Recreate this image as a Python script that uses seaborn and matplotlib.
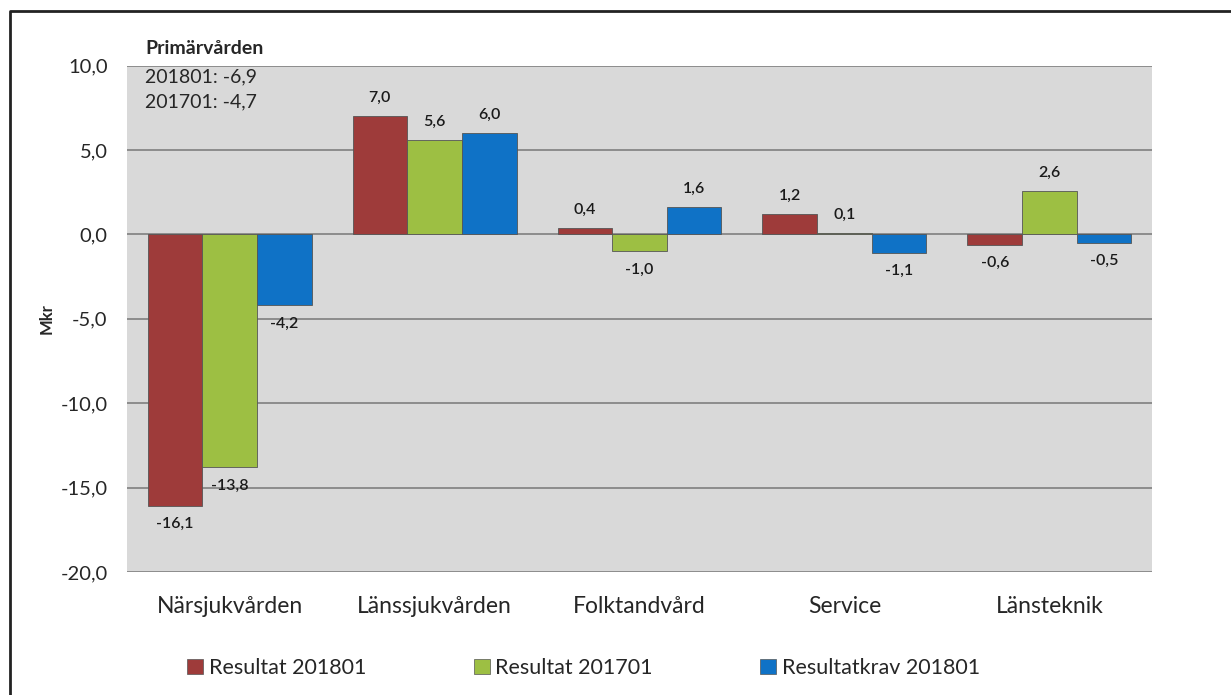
import matplotlib
matplotlib.use("Agg")
import matplotlib.pyplot as plt
import seaborn as sns
import pandas as pd
from matplotlib.patches import Rectangle
from matplotlib.lines import Line2D

categories = ["Närsjukvården", "Länssjukvården", "Folktandvård", "Service", "Länsteknik"]
series_names = ["Resultat 201801", "Resultat 201701", "Resultatkrav 201801"]
res_201801 = [-16.1, 7.0, 0.4, 1.2, -0.6]
res_201701 = [-13.8, 5.6, -1.0, 0.1, 2.6]
krav_201801 = [-4.2, 6.0, 1.6, -1.1, -0.5]
yticks = [10, 5, 0, -5, -10, -15, -20]
note_title = "Primärvården"
note_lines = ["201801: -6,9", "201701: -4,7"]

colors = ["#9e3b3a", "#9dbf43", "#0f72c6"]

rows = []
for name, vals in zip(series_names, [res_201801, res_201701, krav_201801]):
    for c, v in zip(categories, vals):
        rows.append({"Kategori": c, "Serie": name, "Mkr": v})
df = pd.DataFrame(rows)

sns.set_theme(style="white")
plt.rcParams["font.family"] = ["Lato", "DejaVu Sans"]

fig = plt.figure(figsize=(12.31, 6.95), dpi=100)
ax = fig.add_axes([0.1032, 0.177, 0.8326, 0.7285])
ax.set_facecolor("#d9d9d9")

sns.barplot(data=df, x="Kategori", y="Mkr", hue="Serie", order=categories,
            hue_order=series_names, palette=colors, width=0.8, ax=ax,
            edgecolor="#555555", linewidth=0.6, saturation=1, legend=False)

for cont in ax.containers:
    labels = [f"{v:.1f}".replace(".", ",") for v in cont.datavalues]
    ax.bar_label(cont, labels=labels, padding=8, fontsize=11.5, color="#1a1a1a",
                 fontweight="semibold")

ax.set_ylim(-20, 10)
ax.set_xlim(-0.5, 4.5)
ax.set_yticks(yticks)
ax.set_yticklabels([f"{t:.1f}".replace(".", ",") for t in yticks], fontsize=14.5)
ax.tick_params(axis="x", labelsize=16.5, length=0, pad=17)
ax.tick_params(axis="y", length=0, pad=14)
ax.grid(axis="y", color="#8c8c8c", linewidth=1.4)
ax.set_axisbelow(True)
for s in ax.spines.values():
    s.set_visible(False)
ax.set_xlabel("")
ax.set_ylabel("Mkr", fontsize=12, fontweight="bold", labelpad=4)

fig.text(145 / 1231, 1 - 48 / 695, note_title, fontsize=14, fontweight="bold",
         va="center", ha="left")
for i, line in enumerate(note_lines):
    fig.text(145 / 1231, 1 - (77 + 25 * i) / 695, line, fontsize=14,
             va="center", ha="left")

handles = [Rectangle((0, 0), 1, 1, facecolor=c, edgecolor="#555555", linewidth=0.5)
           for c in colors]
fig.legend(handles, series_names, loc="center", bbox_to_anchor=(0.474, 1 - 668 / 695),
           ncol=3, frameon=False, fontsize=15.5, handlelength=0.75, handleheight=0.75,
           handletextpad=0.25, columnspacing=5.0)

border_x = [10 / 1231, 10 / 1231, 1.0]
border_y = [0.0, 1 - 11 / 695, 1 - 11 / 695]
fig.add_artist(Line2D(border_x, border_y, transform=fig.transFigure,
                      color="#222222", linewidth=2))

fig.savefig("out.png", dpi=100)
